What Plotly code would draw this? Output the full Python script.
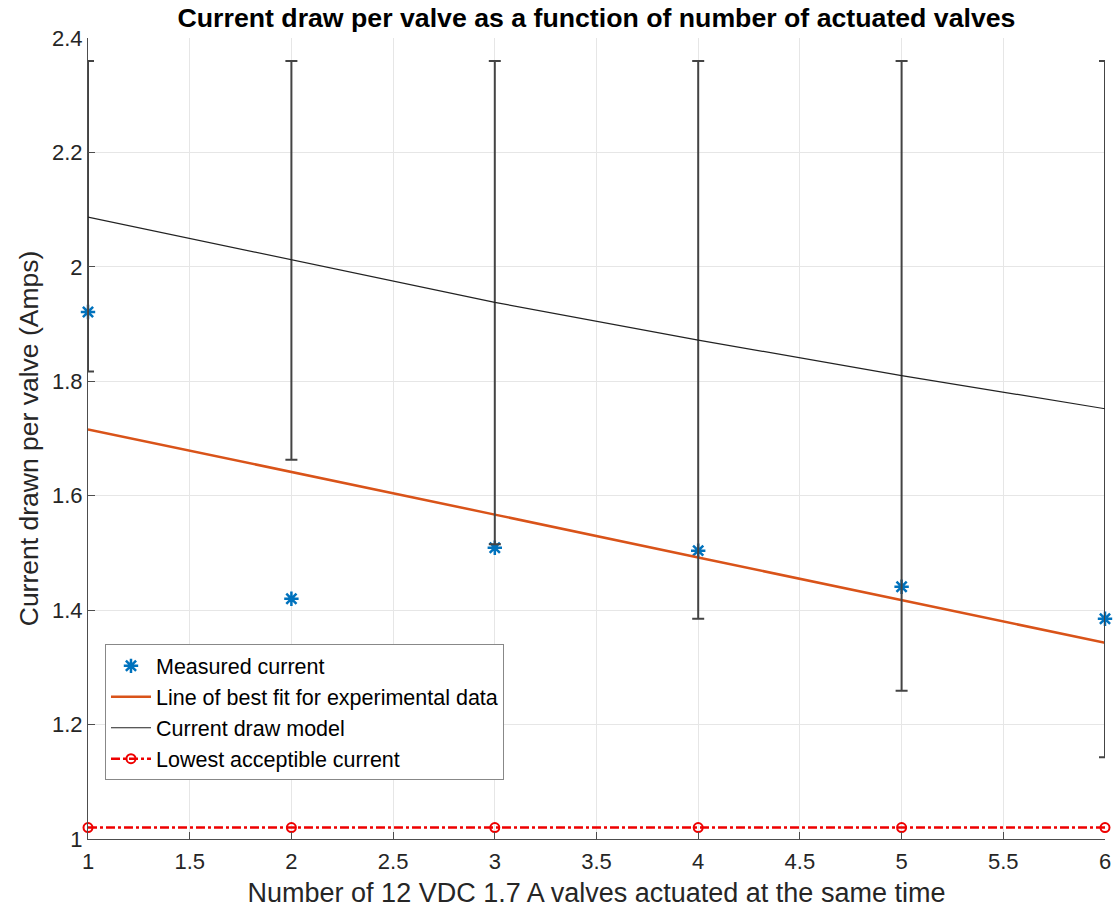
import plotly.graph_objects as go

valves = [1, 2, 3, 4, 5, 6]
measured = [1.921, 1.420, 1.509, 1.504, 1.441, 1.385]
best_fit = [1.716, 1.642, 1.567, 1.492, 1.418, 1.343]
model = [2.087, 2.012, 1.938, 1.872, 1.810, 1.752]
model_err_plus = [0.273, 0.348, 0.422, 0.488, 0.550, 0.608]
model_err_minus = [0.270, 0.349, 0.423, 0.487, 0.551, 0.609]
lowest = [1.02, 1.02, 1.02, 1.02, 1.02, 1.02]

x_ticks = [1, 1.5, 2, 2.5, 3, 3.5, 4, 4.5, 5, 5.5, 6]
x_ticktext = ["1", "1.5", "2", "2.5", "3", "3.5", "4", "4.5", "5", "5.5", "6"]
y_ticks = [1, 1.2, 1.4, 1.6, 1.8, 2, 2.2, 2.4]
y_ticktext = ["1", "1.2", "1.4", "1.6", "1.8", "2", "2.2", "2.4"]

FONT = "Liberation Sans, Arial, Helvetica, sans-serif"

fig = go.Figure()
fig.add_trace(go.Scatter(
    x=valves, y=measured, mode="markers", name="Measured current",
    marker=dict(symbol="asterisk-open", size=12, color="#0072BD",
                line=dict(color="#0072BD", width=2.5)),
    cliponaxis=False,
))
fig.add_trace(go.Scatter(
    x=valves, y=best_fit, mode="lines", name="Line of best fit for experimental data",
    line=dict(color="#D95319", width=2.5),
    cliponaxis=False,
))
fig.add_trace(go.Scatter(
    x=valves, y=model, mode="lines", name="Current draw model",
    line=dict(color="#222222", width=1.2),
    error_y=dict(type="data", symmetric=False, array=model_err_plus,
                 arrayminus=model_err_minus, color="#444444", thickness=2, width=6),
    cliponaxis=False,
))
fig.add_trace(go.Scatter(
    x=valves, y=lowest, mode="lines+markers", name="Lowest acceptible current",
    line=dict(color="#EE0000", width=2.5, dash="dashdot"),
    marker=dict(symbol="circle-open", size=9, color="#EE0000",
                line=dict(color="#EE0000", width=2)),
    cliponaxis=False,
))

fig.update_layout(
    width=1114, height=908,
    margin=dict(l=88, r=9, t=38, b=69),
    paper_bgcolor="white", plot_bgcolor="white",
    font=dict(family=FONT, color="#262626", size=22),
    title=dict(text="<b>Current draw per valve as a function of number of actuated valves</b>",
               x=(88 + 1105) / 2 / 1114, xanchor="center", y=1 - 18 / 908, yanchor="middle",
               font=dict(size=26.7, color="#000000")),
    showlegend=True,
    legend=dict(x=0.0167, y=0.243, xanchor="left", yanchor="top",
                bgcolor="white", bordercolor="#888888", borderwidth=1,
                font=dict(size=21.5, color="#000000"), tracegroupgap=0,
                itemwidth=40),
)
fig.update_xaxes(
    range=[1, 6], tickvals=x_ticks, ticktext=x_ticktext,
    showgrid=True, gridcolor="#E6E6E6", gridwidth=1,
    showline=True, linecolor="#4D4D4D", linewidth=1, mirror=False,
    ticks="inside", ticklen=7, tickcolor="#4D4D4D", zeroline=False,
    tickfont=dict(size=22), automargin=False, ticklabelstandoff=3,
    title=dict(text="Number of 12 VDC 1.7 A valves actuated at the same time",
               font=dict(size=27, color="#262626"), standoff=10),
)
fig.update_yaxes(
    range=[1, 2.4], tickvals=y_ticks, ticktext=y_ticktext,
    showgrid=True, gridcolor="#E6E6E6", gridwidth=1,
    showline=True, linecolor="#4D4D4D", linewidth=1, mirror=False,
    ticks="inside", ticklen=7, tickcolor="#4D4D4D", zeroline=False,
    tickfont=dict(size=22), automargin=False,
    title=dict(text="Current drawn per valve (Amps)",
               font=dict(size=26.5, color="#262626"), standoff=5),
)

fig.write_html("out.html")
